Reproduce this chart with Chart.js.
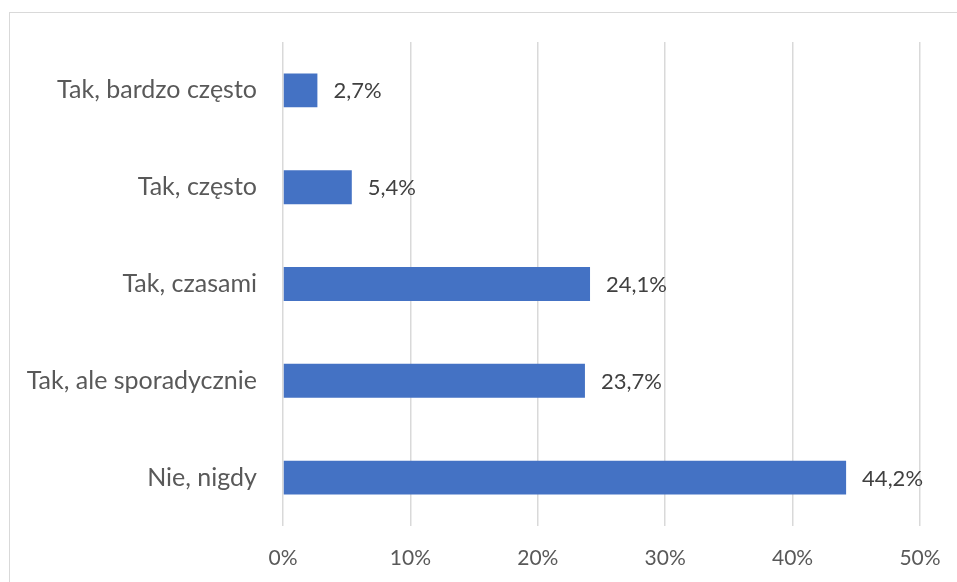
<!DOCTYPE html>
<html>
<head>
<meta charset="utf-8">
<script src="https://cdn.jsdelivr.net/npm/chart.js@4"></script>
<style>
html,body{margin:0;padding:0;background:#fff;}
#wrap{position:relative;width:957px;height:582px;overflow:hidden;}
#frame{position:absolute;left:9px;top:12px;width:1000px;height:700px;border:1px solid #d9d9d9;box-sizing:border-box;}
canvas{position:absolute;left:0;top:0;}
</style>
</head>
<body>
<div id="wrap"><div id="frame"></div><canvas id="c" width="957" height="582"></canvas></div>
<script>
const categories = ["Tak, bardzo często", "Tak, często", "Tak, czasami", "Tak, ale sporadycznie", "Nie, nigdy"];
const values = [2.7, 5.4, 24.1, 23.7, 44.2];
const valueLabels = ["2,7%", "5,4%", "24,1%", "23,7%", "44,2%"];
const xTicks = [0, 10, 20, 30, 40, 50];

const FONT = "Lato, 'Open Sans', sans-serif";

const labelPlugin = {
  id: 'valueLabels',
  afterDatasetsDraw(chart) {
    const ctx = chart.ctx;
    const meta = chart.getDatasetMeta(0);
    ctx.save();
    ctx.font = "22px " + FONT;
    ctx.fillStyle = "#404040";
    ctx.textBaseline = "middle";
    ctx.textAlign = "left";
    meta.data.forEach((bar, i) => {
      ctx.fillText(valueLabels[i], bar.x + 16, bar.y + 1);
    });
    ctx.restore();
  }
};

new Chart(document.getElementById('c'), {
  type: 'bar',
  data: {
    labels: categories,
    datasets: [{
      data: values,
      backgroundColor: '#4472C4',
      borderWidth: 0,
      barPercentage: 0.35,
      categoryPercentage: 1.0
    }]
  },
  options: {
    indexAxis: 'y',
    responsive: false,
    animation: false,
    layout: { padding: { top: 42, right: 37, left: 0, bottom: 0 } },
    plugins: { legend: { display: false }, tooltip: { enabled: false } },
    scales: {
      x: {
        min: 0, max: 50,
        afterBuildTicks(s) { s.ticks = xTicks.map(v => ({ value: v })); },
        afterFit(s) { s.height = 56; s.paddingLeft = 0; s.paddingRight = 0; },
        grid: { color: '#d9d9d9', lineWidth: 1.5, drawTicks: false },
        border: { display: false },
        ticks: {
          padding: 20,
          color: '#595959',
          font: { family: FONT, size: 21 },
          callback: v => v + '%'
        }
      },
      y: {
        afterFit(s) { s.width = 283; },
        grid: { display: false, drawTicks: false },
        border: { display: false },
        ticks: {
          padding: 26,
          color: '#595959',
          font: { family: FONT, size: 25 }
        }
      }
    }
  },
  plugins: [labelPlugin]
});
</script>
</body>
</html>
